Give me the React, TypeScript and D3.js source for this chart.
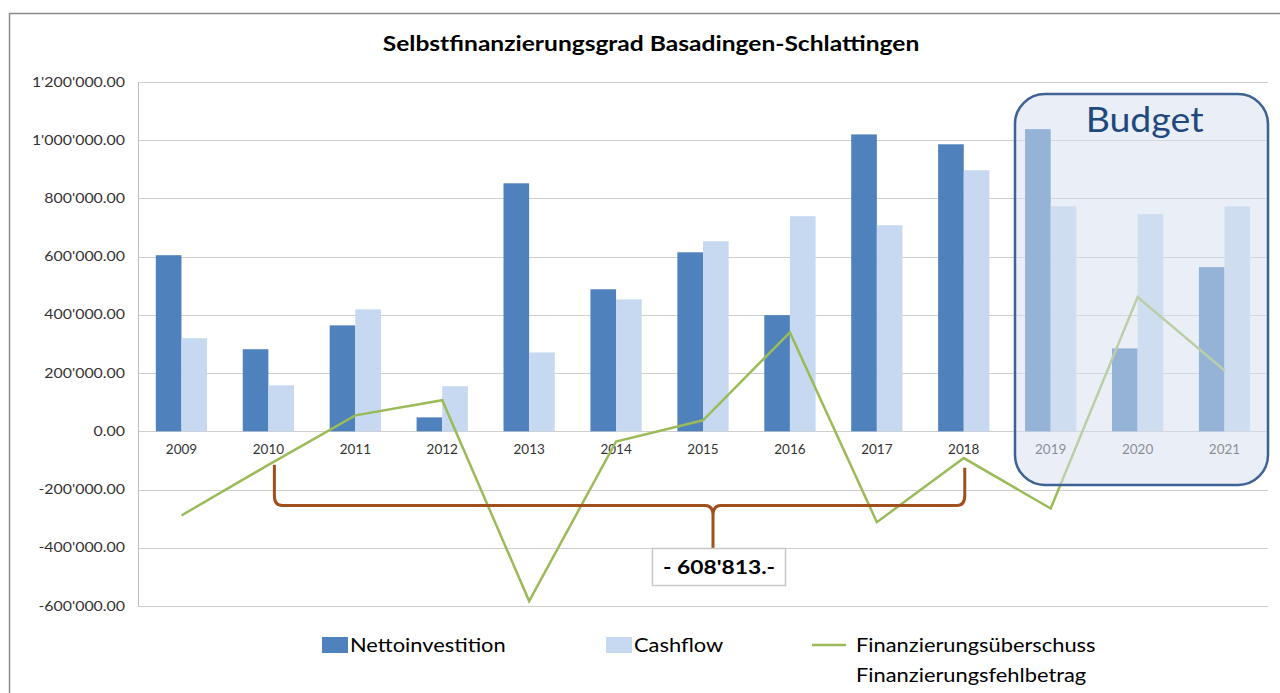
import React, { useRef, useEffect } from 'react'
import * as d3 from 'd3'

const years = ['2009', '2010', '2011', '2012', '2013', '2014', '2015', '2016', '2017', '2018', '2019', '2020', '2021']
const nettoinvestition = [605000, 282000, 364000, 48000, 852000, 488000, 615000, 399000, 1020000, 986000, 1038000, 285000, 564000]
const cashflow = [320000, 158000, 419000, 155000, 271000, 453000, 653000, 739000, 708000, 897000, 773000, 746000, 773000]
const finanzierung = [-289000, -115000, 55000, 107000, -583000, -35000, 38000, 340000, -312000, -92000, -265000, 461000, 209000]
const yTicks = [-600000, -400000, -200000, 0, 200000, 400000, 600000, 800000, 1000000, 1200000]
const budgetYears = ['2019', '2020', '2021']
const bracketFrom = '2010'
const bracketTo = '2018'
const bracketLabel = "- 608'813.-"

const FONT = 'Lato, "Open Sans", sans-serif'

const fmt = (v: number) => d3.format(',.2f')(v).replace(/,/g, "'").replace('\u2212', '-')

// the reference text is drawn wider than Lato, so widen each label a bit
const stretch = (sel: d3.Selection<any, any, any, any>, k: number) => {
	sel.each(function () {
		const el = this as SVGTextElement
		const w = el.getComputedTextLength()
		d3.select(el).attr('textLength', w * k).attr('lengthAdjust', 'spacingAndGlyphs')
	})
}

const App = () => {
	const svgRef = useRef<SVGSVGElement>(null)

	useEffect(() => {
		const svg = d3.select(svgRef.current)
		svg.selectAll('*').remove()

		const left = 138,
			right = 1268,
			top = 82,
			bottom = 606

		// outer frame
		svg.append('rect')
			.attr('x', 9.5)
			.attr('y', 13.5)
			.attr('width', 1300)
			.attr('height', 700)
			.attr('fill', 'white')
			.attr('stroke', '#8c8c8c')
			.attr('stroke-width', 1.5)

		const title = svg.append('text')
			.attr('x', 651)
			.attr('y', 51)
			.attr('text-anchor', 'middle')
			.style('font-family', FONT)
			.style('font-weight', 'bold')
			.style('font-size', '21px')
			.attr('fill', '#000')
			.text('Selbstfinanzierungsgrad Basadingen-Schlattingen')
		stretch(title, 1.17)

		const x = d3.scaleBand().domain(years).range([left, right]).paddingInner(0.41).paddingOuter(0.205)
		const y = d3.scaleLinear().domain([-600000, 1200000]).range([bottom, top])
		const cx = (d: string) => (x(d) as number) + x.bandwidth() / 2

		// gridlines
		svg.append('g')
			.selectAll('line')
			.data(yTicks)
			.join('line')
			.attr('x1', left)
			.attr('x2', right)
			.attr('y1', (d) => Math.round(y(d)) + 0.5)
			.attr('y2', (d) => Math.round(y(d)) + 0.5)
			.attr('stroke', '#cfcfcf')
			.attr('stroke-width', 1)

		svg.append('line')
			.attr('x1', left + 0.5)
			.attr('x2', left + 0.5)
			.attr('y1', top)
			.attr('y2', bottom)
			.attr('stroke', '#bdbdbd')

		const yl = svg.append('g')
			.selectAll('text')
			.data(yTicks)
			.join('text')
			.attr('x', 125)
			.attr('y', (d) => y(d) + 4.5)
			.attr('text-anchor', 'end')
			.style('font-family', FONT)
			.style('font-size', '12.5px')
			.attr('fill', '#333')
			.text((d) => fmt(d))
		stretch(yl, 1.27)

		// bars
		const sub = d3.scaleBand().domain(['n', 'c']).range([0, x.bandwidth()])
		const g = svg.append('g')
		g.selectAll('.netto')
			.data(years)
			.join('rect')
			.attr('x', (d) => (x(d) as number) + (sub('n') as number))
			.attr('width', sub.bandwidth())
			.attr('y', (d, i) => y(nettoinvestition[i]))
			.attr('height', (d, i) => y(0) - y(nettoinvestition[i]))
			.attr('fill', '#4f81bd')
		g.selectAll('.cash')
			.data(years)
			.join('rect')
			.attr('x', (d) => (x(d) as number) + (sub('c') as number))
			.attr('width', sub.bandwidth())
			.attr('y', (d, i) => y(cashflow[i]))
			.attr('height', (d, i) => y(0) - y(cashflow[i]))
			.attr('fill', '#c6d9f1')

		// x labels
		const xl = svg.append('g')
			.selectAll('text')
			.data(years)
			.join('text')
			.attr('x', (d) => cx(d))
			.attr('y', y(0) + 23)
			.attr('text-anchor', 'middle')
			.style('font-family', FONT)
			.style('font-size', '12.5px')
			.attr('fill', '#333')
			.text((d) => d)
		stretch(xl, 1.08)

		// line
		const line = d3
			.line<number>()
			.x((d, i) => cx(years[i]))
			.y((d) => y(d))
		svg.append('path')
			.datum(finanzierung)
			.attr('d', line)
			.attr('fill', 'none')
			.attr('stroke', '#9bbb59')
			.attr('stroke-width', 2.5)

		// budget box
		svg.append('rect')
			.attr('x', 1015)
			.attr('y', 94)
			.attr('width', 253)
			.attr('height', 391)
			.attr('rx', 30)
			.attr('ry', 30)
			.attr('fill', 'rgba(214,224,240,0.52)')
			.attr('stroke', '#3e6295')
			.attr('stroke-width', 2.5)
		const bt = svg.append('text')
			.attr('x', (cx(budgetYears[0]) + cx(budgetYears[2])) / 2 + 7)
			.attr('y', 132)
			.attr('text-anchor', 'middle')
			.style('font-family', FONT)
			.style('font-size', '35px')
			.attr('fill', '#1f497d')
			.text('Budget')
		stretch(bt, 1.07)

		// bracket
		const bl = cx(bracketFrom) + 6
		const br = cx(bracketTo) + 1
		const bm = 713
		const by = y(-255000)
		const path = d3.path()
		path.moveTo(bl, y(finanzierung[1]))
		path.lineTo(bl, by - 10)
		path.quadraticCurveTo(bl, by, bl + 8, by)
		path.lineTo(bm - 8, by)
		path.quadraticCurveTo(bm, by, bm, by + 10)
		path.lineTo(bm, y(-525000))
		path.moveTo(bm, by + 10)
		path.quadraticCurveTo(bm, by, bm + 8, by)
		path.lineTo(br - 8, by)
		path.quadraticCurveTo(br, by, br, by - 10)
		path.lineTo(br, y(-125000))
		svg.append('path')
			.attr('d', path.toString())
			.attr('fill', 'none')
			.attr('stroke', '#a0501c')
			.attr('stroke-width', 3)

		svg.append('rect')
			.attr('x', 652.5)
			.attr('y', 548.5)
			.attr('width', 133)
			.attr('height', 37)
			.attr('fill', 'white')
			.attr('stroke', '#c8c8c8')
			.attr('stroke-width', 1.5)
		const bl2 = svg.append('text')
			.attr('x', 719)
			.attr('y', 574)
			.attr('text-anchor', 'middle')
			.style('font-family', FONT)
			.style('font-weight', 'bold')
			.style('font-size', '19px')
			.attr('fill', '#000')
			.text(bracketLabel)
		stretch(bl2, 1.2)

		// legend
		const lg = svg.append('g').style('font-family', FONT).style('font-size', '19.5px').attr('fill', '#000')
		lg.append('rect').attr('x', 322).attr('y', 637).attr('width', 26).attr('height', 16).attr('fill', '#4f81bd')
		lg.append('rect').attr('x', 606).attr('y', 637).attr('width', 26).attr('height', 16).attr('fill', '#c6d9f1')
		lg.append('line').attr('x1', 812).attr('x2', 846).attr('y1', 645).attr('y2', 645).attr('stroke', '#9bbb59').attr('stroke-width', 2.5)
		const lt = lg.selectAll('text')
			.data([
				{ t: 'Nettoinvestition', x: 350, y: 652 },
				{ t: 'Cashflow', x: 634, y: 652 },
				{ t: 'Finanzierungsüberschuss', x: 856, y: 652 },
				{ t: 'Finanzierungsfehlbetrag', x: 856, y: 682 },
			])
			.join('text')
			.attr('x', (d) => d.x)
			.attr('y', (d) => d.y)
			.text((d) => d.t)
		stretch(lt, 1.12)
	}, [])

	return <svg ref={svgRef} width={1280} height={693} style={{ position: 'absolute', left: 0, top: 0 }}></svg>
}

export default App
